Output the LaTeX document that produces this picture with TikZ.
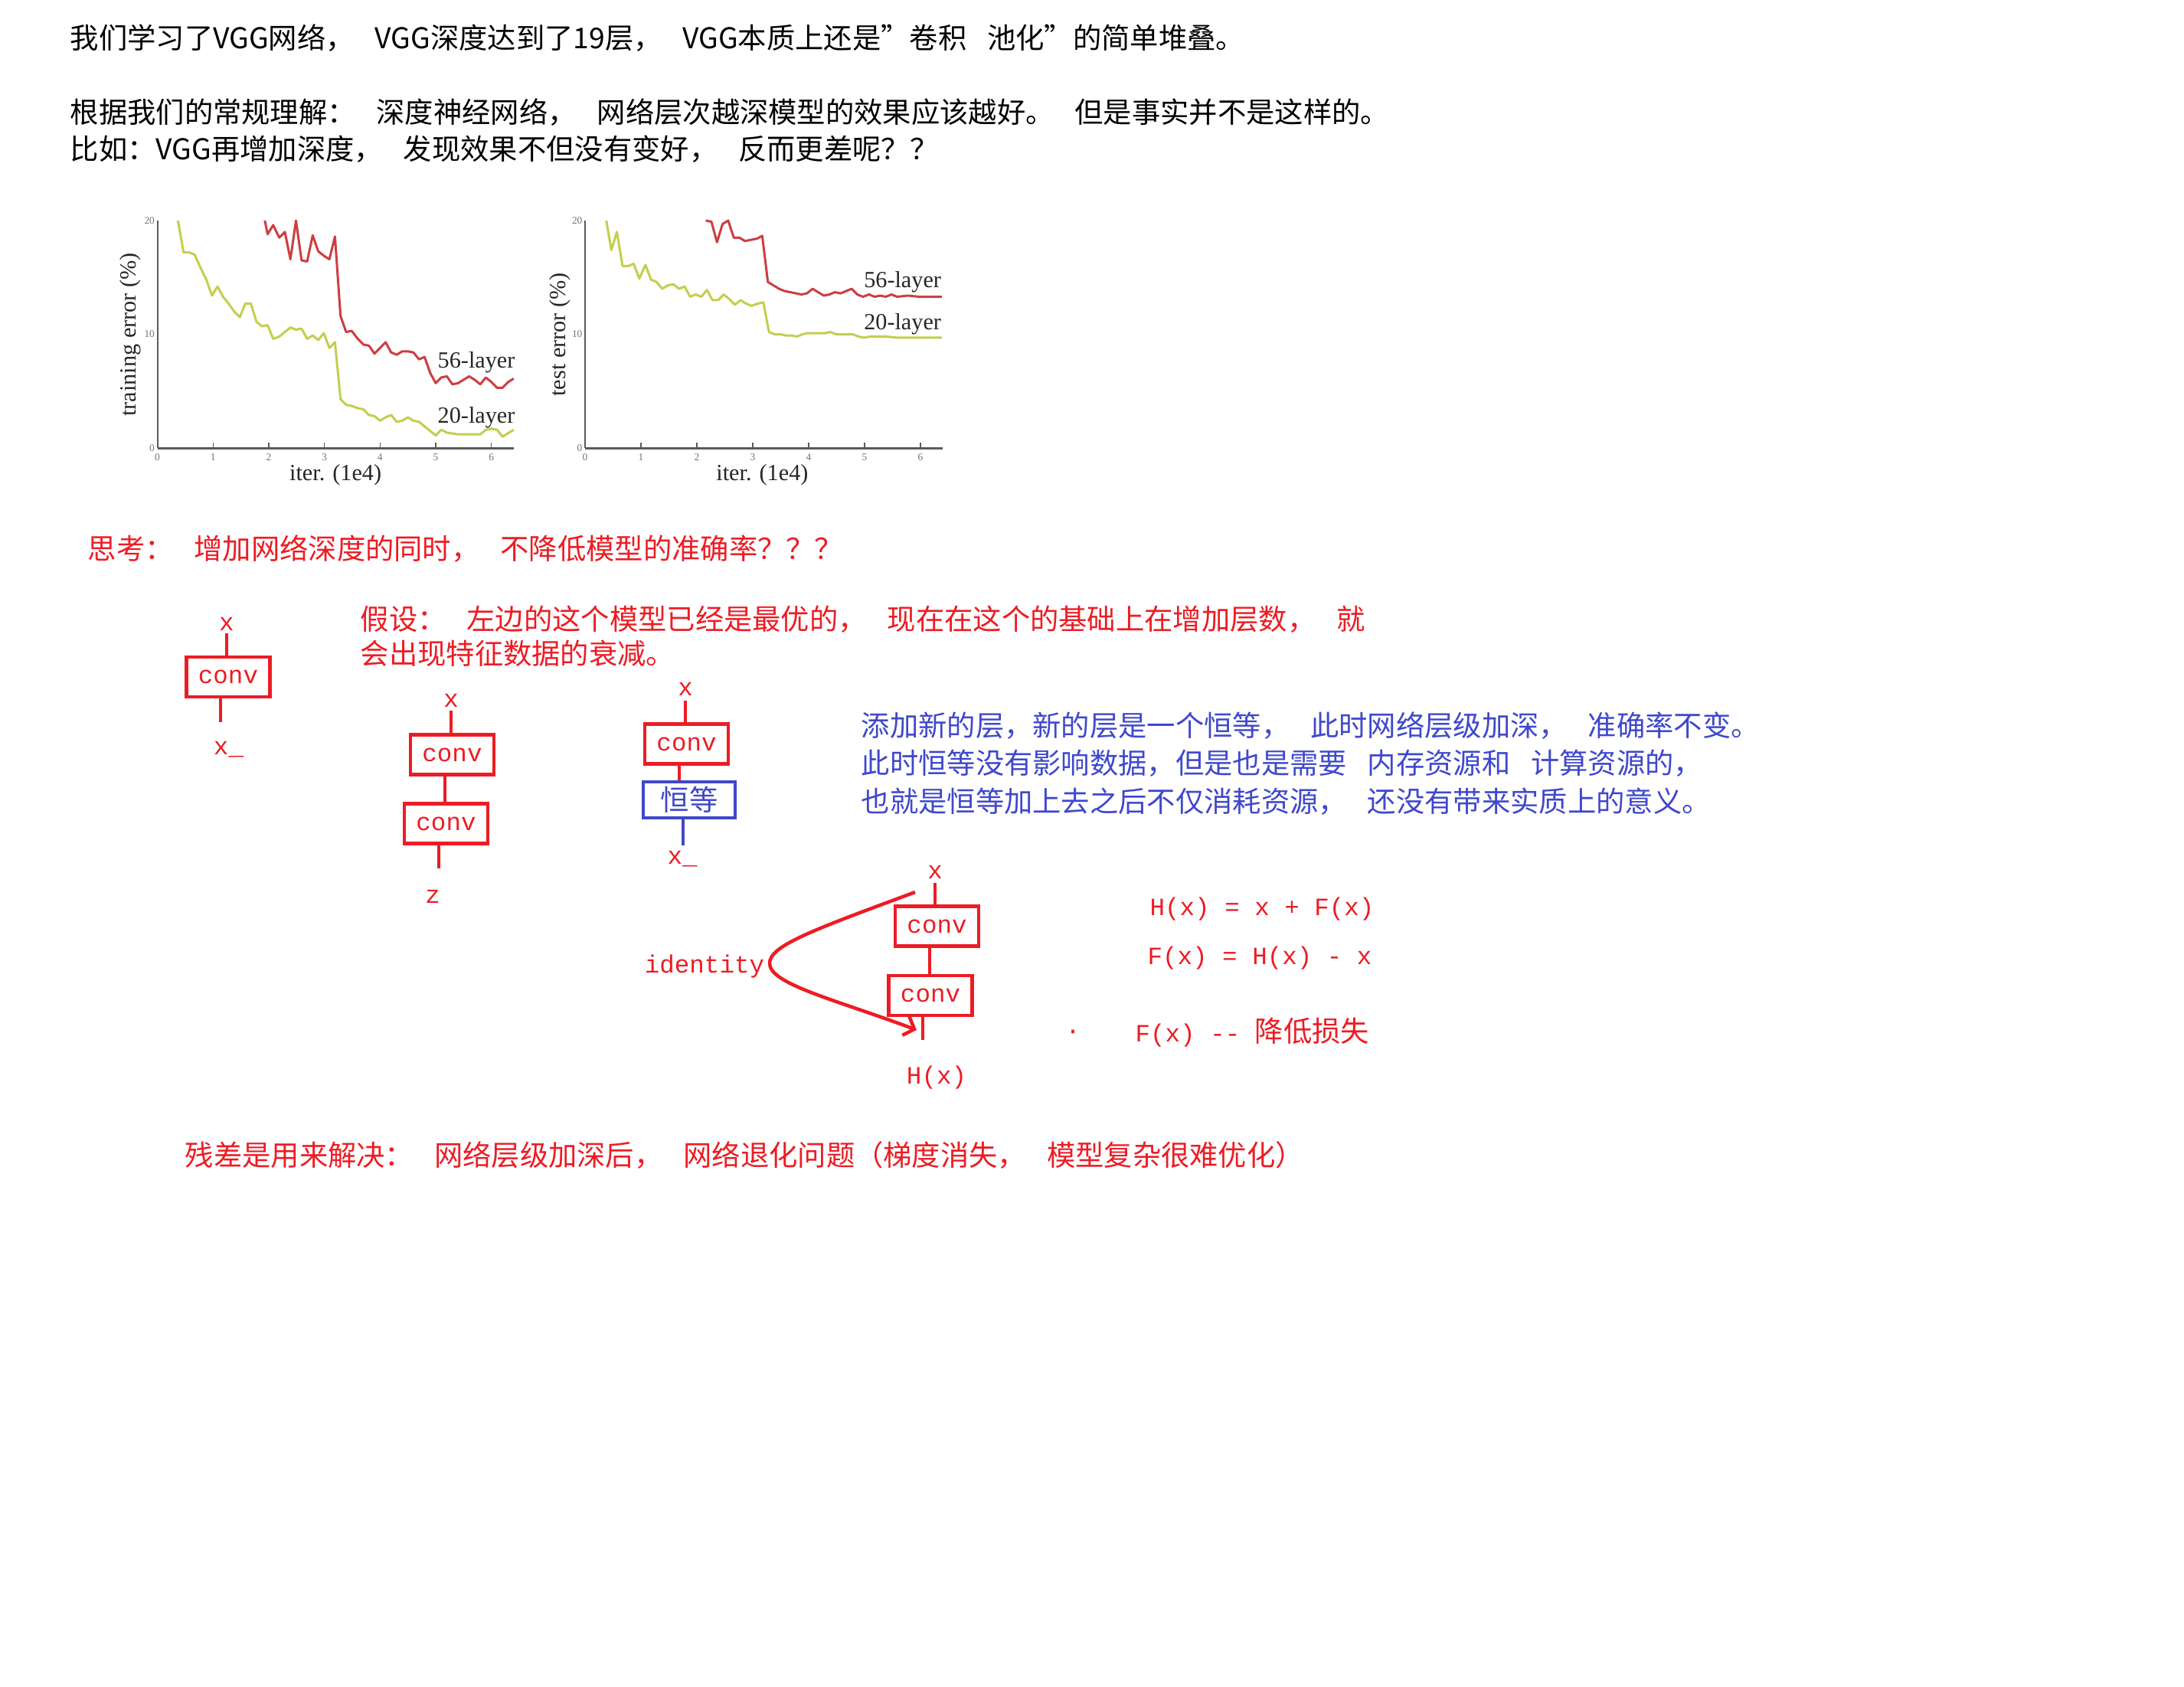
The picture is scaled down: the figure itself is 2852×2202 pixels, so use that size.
\documentclass[tikz,border=0pt]{standalone}
\usepackage{fontspec}
\setmainfont{Noto Sans CJK SC}[WordSpace=3.2]
\setmonofont{Liberation Mono}
\newfontfamily\plotfont{Liberation Serif}
\usetikzlibrary{arrows.meta}
\definecolor{inkred}{RGB}{237,28,36}
\definecolor{inkblue}{RGB}{63,72,204}
\definecolor{plotred}{RGB}{205,62,66}
\definecolor{plotgreen}{RGB}{196,206,78}
\definecolor{plotaxis}{RGB}{90,90,90}
\newcommand{\notefont}{\rmfamily\fontsize{10.62pt}{12.8pt}\selectfont}
\newcommand{\codefont}{\ttfamily\fontsize{9.25pt}{11pt}\selectfont}
\tikzset{
  textline/.style={anchor=west, inner sep=0pt, font=\notefont, align=left},
  redline/.style={textline, text=inkred},
  blueline/.style={textline, text=inkblue},
  codelabel/.style={anchor=base, inner sep=0pt, font=\codefont, text=inkred},
  convbox/.style={draw=inkred, line width=0.45mm, minimum width=10.9mm, minimum height=5.2mm, inner sep=0pt, font=\codefont, text=inkred},
  idbox/.style={draw=inkblue, line width=0.45mm, minimum width=12mm, minimum height=4.7mm, inner sep=0pt, font=\notefont, text=inkblue},
  wire/.style={draw=inkred, line width=0.4mm},
  bluewire/.style={draw=inkblue, line width=0.4mm},
  skiparrow/.style={draw=inkred, line width=0.45mm, -{Straight Barb[length=1.2mm, width=2.6mm]}},
  axisline/.style={draw=plotaxis, line width=0.2mm},
  curve56/.style={draw=plotred, line width=0.3mm, line join=round},
  curve20/.style={draw=plotgreen, line width=0.3mm, line join=round},
  plotlabel/.style={font=\plotfont\fontsize{8.6pt}{10pt}\selectfont, text=black!85, inner sep=0pt},
  ticklabel/.style={font=\plotfont\fontsize{3.8pt}{4pt}\selectfont, text=black!55, inner sep=0pt}
}

\begin{document}
\begin{tikzpicture}[x=0.1mm, y=-0.1mm]
  \fill[white] (0,0) rectangle (2852,2202);
  \useasboundingbox (0,0) rectangle (2852,2202);

  % intro text
  \node[textline] (intro1) at (91,50) {我们学习了VGG网络， VGG深度达到了19层， VGG本质上还是"卷积 池化"的简单堆叠。};
  \node[textline] (intro2) at (91,170.5) {根据我们的常规理解： 深度神经网络， 网络层次越深模型的效果应该越好。 但是事实并不是这样的。\\[1.1pt]比如：VGG再增加深度， 发现效果不但没有变好， 反而更差呢？？};

  % training error plot
  \begin{scope}[shift={(205.5,585)}, x=7.27mm, y=1.485mm]
    \draw[axisline] (0,0) -- (0,20);
    \draw[axisline, line width=0.3mm] (0,0) -- (6.4,0);
    \foreach \i in {0,...,6} {
      \draw[axisline, line width=0.12mm] (\i,0) -- (\i,0.5);
      \node[ticklabel] at (\i,-0.8) {\i};
    }
    \foreach \j in {0,10,20}
      \node[ticklabel, anchor=east] at (-0.04,\j) {\j};
    \draw[curve20] plot coordinates {(0.37,20) (0.47,17.2) (0.57,17.2) (0.67,17.0) (0.78,15.8) (0.88,14.8) (0.98,13.4) (1.08,14.2) (1.18,13.3) (1.28,12.7) (1.38,12.0) (1.48,11.5) (1.58,12.7) (1.68,12.7) (1.78,11.1) (1.88,10.7) (1.98,10.8) (2.08,9.6) (2.19,9.8) (2.29,10.2) (2.39,10.6) (2.49,10.4) (2.59,10.5) (2.69,9.6) (2.79,9.9) (2.89,9.5) (2.99,10.1) (3.09,8.8) (3.19,9.3) (3.29,4.3) (3.39,3.8) (3.49,3.7) (3.60,3.5) (3.70,3.4) (3.80,2.9) (3.90,2.8) (4.00,2.4) (4.10,2.7) (4.20,2.9) (4.30,2.3) (4.40,2.4) (4.50,2.7) (4.60,2.4) (4.70,2.3) (4.80,1.9) (4.90,1.5) (5.00,1.1) (5.10,1.6) (5.20,1.35) (5.40,1.2) (5.60,1.2) (5.80,1.2) (5.90,1.6) (6.00,1.7) (6.10,1.6) (6.20,1.0) (6.30,1.3) (6.40,1.6)};
    \draw[curve56] plot coordinates {(1.93,20) (1.98,18.8) (2.08,19.6) (2.19,18.5) (2.29,19.0) (2.39,16.6) (2.49,20) (2.59,16.5) (2.69,16.4) (2.79,18.7) (2.89,17.3) (2.99,16.9) (3.09,16.6) (3.19,18.6) (3.29,11.6) (3.39,10.2) (3.49,10.3) (3.60,9.6) (3.70,9.1) (3.80,9.0) (3.90,8.3) (4.10,9.3) (4.20,8.4) (4.30,8.2) (4.40,8.5) (4.50,8.5) (4.60,8.4) (4.70,7.8) (4.80,8.0) (4.90,6.6) (5.00,5.7) (5.10,6.2) (5.20,6.3) (5.30,5.6) (5.40,5.7) (5.50,6.0) (5.60,6.3) (5.70,6.0) (5.80,5.6) (5.90,6.2) (6.00,5.8) (6.10,5.3) (6.20,5.3) (6.30,5.8) (6.40,6.1)};
    \node[plotlabel] (train56) at (5.73,7.54) {56-layer};
    \node[plotlabel] (train20) at (5.73,2.69) {20-layer};
    \node[plotlabel] (trainx) at (3.2,-2.36) {iter. (1e4)};
    \node[plotlabel, rotate=90] (trainy) at (-0.49,9.97) {training error (\%)};
  \end{scope}

  % test error plot
  \begin{scope}[shift={(764,585)}, x=7.3mm, y=1.485mm]
    \draw[axisline] (0,0) -- (0,20);
    \draw[axisline, line width=0.3mm] (0,0) -- (6.4,0);
    \foreach \i in {0,...,6} {
      \draw[axisline, line width=0.12mm] (\i,0) -- (\i,0.5);
      \node[ticklabel] at (\i,-0.8) {\i};
    }
    \foreach \j in {0,10,20}
      \node[ticklabel, anchor=east] at (-0.04,\j) {\j};
    \draw[curve20] plot coordinates {(0.38,20) (0.47,17.4) (0.57,19.0) (0.67,16.0) (0.77,16.0) (0.87,16.2) (0.97,14.9) (1.08,16.1) (1.18,14.8) (1.28,14.6) (1.38,14.0) (1.48,14.3) (1.58,14.4) (1.68,14.0) (1.78,14.2) (1.88,13.3) (1.98,13.5) (2.08,13.3) (2.18,13.9) (2.28,13.0) (2.38,13.0) (2.48,13.5) (2.58,13.1) (2.68,12.6) (2.78,13.0) (2.88,12.7) (2.98,12.5) (3.09,12.7) (3.19,12.8) (3.29,10.2) (3.39,10.0) (3.49,10.0) (3.59,9.9) (3.69,9.9) (3.79,9.8) (3.89,10.0) (3.99,10.1) (4.09,10.1) (4.19,10.1) (4.29,10.1) (4.39,10.2) (4.49,10.0) (4.59,10.0) (4.69,10.0) (4.79,10.0) (4.89,9.8) (4.99,9.7) (5.10,9.8) (5.20,9.8) (5.38,9.8) (5.58,9.7) (5.78,9.7) (5.98,9.7) (6.18,9.7) (6.38,9.7)};
    \draw[curve56] plot coordinates {(2.16,20) (2.26,19.9) (2.36,18.1) (2.46,19.7) (2.56,20) (2.66,18.5) (2.76,18.5) (2.86,18.2) (2.96,18.3) (3.07,18.4) (3.17,18.65) (3.27,14.6) (3.37,14.3) (3.47,14.0) (3.57,13.8) (3.77,13.6) (3.87,13.5) (3.97,13.6) (4.07,14.0) (4.17,13.7) (4.27,13.4) (4.37,13.5) (4.47,13.7) (4.57,13.6) (4.67,13.8) (4.77,14.0) (4.87,13.5) (4.97,13.3) (5.08,13.5) (5.18,13.3) (5.28,13.4) (5.38,13.3) (5.48,13.5) (5.58,13.3) (5.78,13.4) (5.98,13.3) (6.18,13.3) (6.38,13.3)};
    \node[plotlabel] (test56) at (5.68,14.6) {56-layer};
    \node[plotlabel] (test20) at (5.68,10.9) {20-layer};
    \node[plotlabel] (testx) at (3.17,-2.36) {iter. (1e4)};
    \node[plotlabel, rotate=90] (testy) at (-0.45,9.97) {test error (\%)};
  \end{scope}

  % question and assumption
  \node[redline] (think) at (114,717) {思考： 增加网络深度的同时， 不降低模型的准确率？？？};
  \node[redline] (assume) at (470,830.5) {假设： 左边的这个模型已经是最优的， 现在在这个的基础上在增加层数， 就\\会出现特征数据的衰减。};

  % one conv
  \node[codelabel] (in1) at (296,823) {x};
  \node[convbox] (conv1) at (298,884) {conv};
  \node[codelabel] (out1) at (298.5,985) {x\_};
  \coordinate (in1w) at (296,827);
  \coordinate (out1w) at (288,943);
  \draw[wire] (in1w) -- (in1w |- conv1.north);
  \draw[wire] (conv1.south -| out1w) -- (out1w);

  % two conv
  \node[codelabel] (in2) at (589,923) {x};
  \node[convbox] (conv2a) at (590.5,985.5) {conv};
  \node[convbox] (conv2b) at (582.5,1075.5) {conv};
  \node[codelabel] (out2) at (565,1179) {z};
  \coordinate (in2w) at (589,928);
  \coordinate (mid2w) at (581,0);
  \coordinate (out2w) at (573,1134);
  \draw[wire] (in2w) -- (in2w |- conv2a.north);
  \draw[wire] (conv2a.south -| mid2w) -- (conv2b.north -| mid2w);
  \draw[wire] (conv2b.south -| out2w) -- (out2w);

  % conv plus identity
  \node[codelabel] (in3) at (895,908) {x};
  \node[convbox] (conv3) at (896.5,971.5) {conv};
  \node[idbox] (ident3) at (900,1044.5) {恒等};
  \node[codelabel] (out3) at (891,1128) {x\_};
  \coordinate (in3w) at (895,915);
  \coordinate (mid3w) at (887,0);
  \coordinate (out3w) at (892,1104);
  \draw[wire] (in3w) -- (in3w |- conv3.north);
  \draw[wire] (conv3.south -| mid3w) -- (ident3.north -| mid3w);
  \draw[bluewire] (ident3.south -| out3w) -- (out3w);

  \node[blueline] (identnote) at (1124,997) {添加新的层，新的层是一个恒等， 此时网络层级加深， 准确率不变。\\[1.4pt]此时恒等没有影响数据，但是也是需要 内存资源和 计算资源的，\\[1.4pt]也就是恒等加上去之后不仅消耗资源， 还没有带来实质上的意义。};

  % residual block
  \node[codelabel] (in4) at (1221,1147) {x};
  \node[convbox] (conv4a) at (1223.5,1209.5) {conv};
  \node[convbox] (conv4b) at (1215,1300) {conv};
  \node[codelabel] (out4) at (1223,1415) {H(x)};
  \node[codelabel] (idlab) at (920,1270) {identity};
  \coordinate (in4w) at (1221,1153);
  \coordinate (mid4w) at (1214,0);
  \coordinate (out4w) at (1205,1358);
  \draw[wire] (in4w) -- (in4w |- conv4a.north);
  \draw[wire] (conv4a.south -| mid4w) -- (conv4b.north -| mid4w);
  \draw[wire] (conv4b.south -| out4w) -- (out4w);
  \coordinate (skipstart) at (1195,1165);
  \coordinate (skipend) at (1197,1345);
  \draw[skiparrow] (skipstart) .. controls (1060,1215) and (1005,1235) .. (1005,1258)
    .. controls (1005,1285) and (1090,1305) .. (skipend);

  % formulas
  \node[codelabel, anchor=base west] (eqH) at (1501,1195) {H(x) = x + F(x)};
  \node[codelabel, anchor=base west] (eqF) at (1498,1259) {F(x) = H(x) - x};
  \node[codelabel] (dot) at (1401,1356) {·};
  \node[codelabel, anchor=base west] (loss) at (1482,1360) {F(x) -{}- {\notefont 降低损失}};

  \node[redline] (summary) at (241,1508) {残差是用来解决： 网络层级加深后， 网络退化问题（梯度消失， 模型复杂很难优化）};
\end{tikzpicture}
\end{document}
